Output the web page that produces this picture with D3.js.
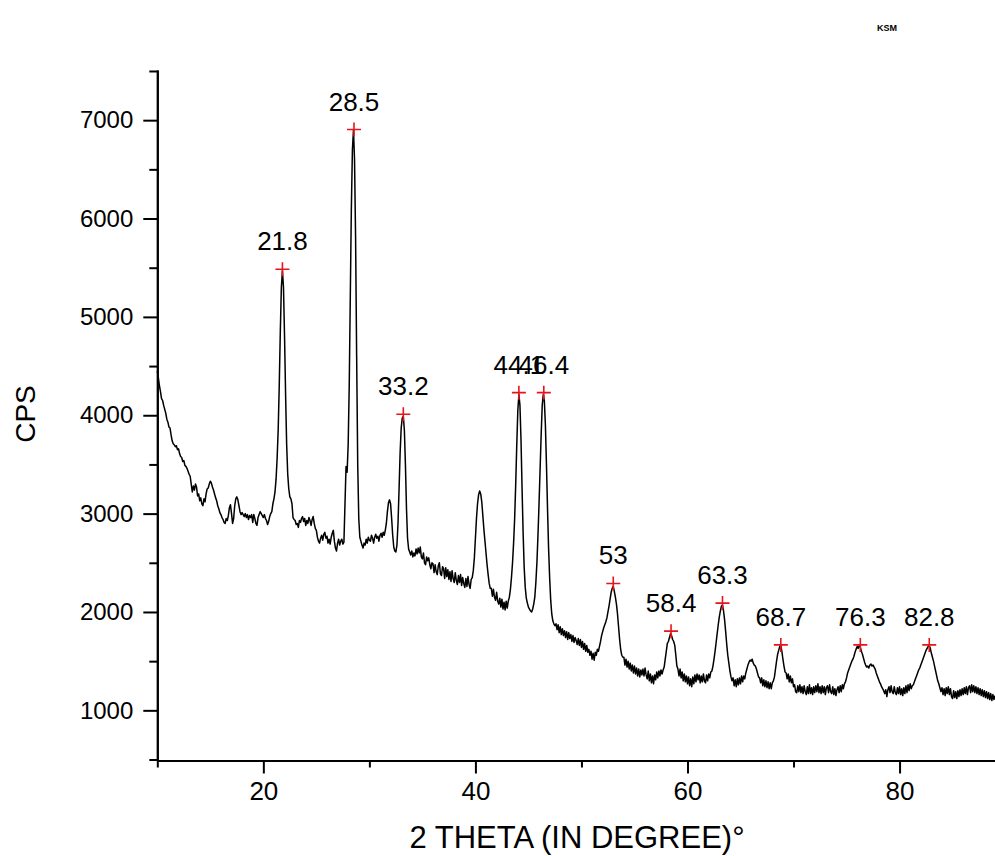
<!DOCTYPE html>
<html>
<head>
<meta charset="utf-8">
<script src="https://cdn.jsdelivr.net/npm/d3@7"></script>
<style>
  body { margin: 0; background: #fff; }
  svg { display: block; font-family: "Liberation Sans", Arial, sans-serif; }
  .axis path, .axis line { stroke: #000; stroke-width: 2; }
  .axis text { fill: #000; }
  .x.axis text { font-family: "Liberation Sans Narrow", "Arial Narrow", "Liberation Sans", sans-serif; font-size: 26px; }
  .y.axis text { font-size: 24px; }
  .axis-label { font-size: 28px; fill: #000; }
  .x.axis-label { font-family: "Liberation Sans Narrow", "Arial Narrow", "Liberation Sans", sans-serif; font-size: 31px; }
  .peak-label { font-size: 26px; fill: #000; }
</style>
</head>
<body>
<div id="chart-area"><svg></svg></div>
<script>
const chartSize = { width: 995, height: 856 };
const margin = { left: 157.3, right: 0, top: 70, bottom: 95.5 };
const width = chartSize.width - margin.left - margin.right;
const height = chartSize.height - margin.top - margin.bottom;

const xDomain = [10, 89];
const yDomain = [490, 7510];
const xMajorTicks = [20, 40, 60, 80];
const xMinorTicks = [10, 30, 50, 70];
const yMajorTicks = [1000, 2000, 3000, 4000, 5000, 6000, 7000];
const yMinorTicks = [500, 1500, 2500, 3500, 4500, 5500, 6500, 7500];

// picked peaks: position on the scan, height and the printed label
const peakTheta = [21.8, 28.55, 33.2, 44.1, 46.45, 53.0, 58.45, 63.3, 68.8, 76.3, 82.8];
const peakCps = [5485, 6905, 4010, 4230, 4230, 2290, 1805, 2090, 1665, 1665, 1665];
const peakLabels = ['21.8', '28.5', '33.2', '44.1', '46.4', '53', '58.4', '63.3', '68.7', '76.3', '82.8'];

// [2 theta, cps]
const scan = [
  [10.0,4450],[10.1,4380],[10.2,4300],[10.3,4240],[10.4,4170],[10.5,4150],[10.6,4100],[10.7,4060],
  [10.8,4020],[10.9,3960],[11.0,3930],[11.1,3880],[11.2,3870],[11.3,3800],[11.4,3740],[11.5,3710],
  [11.6,3700],[11.7,3680],[11.8,3690],[11.9,3650],[12.0,3660],[12.1,3610],[12.2,3580],[12.3,3570],
  [12.4,3530],[12.5,3540],[12.6,3490],[12.7,3480],[12.8,3460],[12.9,3430],[13.0,3400],[13.1,3380],
  [13.2,3300],[13.3,3220],[13.4,3280],[13.5,3240],[13.6,3300],[13.7,3270],[13.8,3180],[13.9,3200],
  [14.0,3130],[14.1,3160],[14.2,3100],[14.3,3080],[14.4,3150],[14.5,3120],[14.6,3200],[14.7,3250],
  [14.8,3260],[14.9,3300],[15.0,3330],[15.1,3310],[15.2,3270],[15.3,3240],[15.4,3200],[15.5,3160],
  [15.6,3130],[15.7,3080],[15.8,3050],[15.9,3010],[16.0,2990],[16.1,2960],[16.2,2940],[16.3,2910],
  [16.4,2900],[16.5,2950],[16.6,2930],[16.7,2980],[16.8,3060],[16.9,3090],[17.0,3000],[17.1,2900],
  [17.2,2950],[17.3,3080],[17.4,3150],[17.5,3170],[17.6,3140],[17.7,3080],[17.8,3020],[17.9,2990],
  [18.0,3010],[18.1,2990],[18.2,2970],[18.3,3000],[18.4,2960],[18.5,2990],[18.6,2940],[18.7,2980],
  [18.8,2960],[18.9,2990],[19.0,2910],[19.1,2990],[19.2,2950],[19.3,2900],[19.4,2880],[19.5,2960],
  [19.6,2990],[19.7,3020],[19.8,3000],[19.9,2980],[20.0,2960],[20.1,2990],[20.2,2950],[20.3,2930],
  [20.4,2890],[20.5,2920],[20.6,2970],[20.7,3000],[20.8,3020],[20.9,3100],[21.0,3150],[21.1,3220],
  [21.2,3350],[21.3,3560],[21.4,3850],[21.5,4300],[21.6,4850],[21.7,5300],[21.8,5470],[21.9,5300],
  [22.0,4800],[22.1,4200],[22.2,3700],[22.3,3400],[22.4,3250],[22.5,3170],[22.6,3150],[22.7,3100],
  [22.8,2960],[22.9,2940],[23.0,2930],[23.1,2890],[23.2,2900],[23.3,2860],[23.4,2930],[23.5,2910],
  [23.6,2950],[23.7,2970],[23.8,2920],[23.9,2950],[24.0,2880],[24.1,2930],[24.2,2900],[24.3,2960],
  [24.4,2930],[24.5,2880],[24.6,2940],[24.7,2970],[24.8,2900],[24.9,2850],[25.0,2830],[25.1,2760],
  [25.2,2720],[25.3,2700],[25.4,2750],[25.5,2780],[25.6,2730],[25.7,2790],[25.8,2810],[25.9,2750],
  [26.0,2770],[26.1,2700],[26.2,2740],[26.3,2690],[26.4,2760],[26.5,2800],[26.6,2830],[26.7,2720],
  [26.8,2650],[26.9,2620],[27.0,2700],[27.1,2740],[27.2,2680],[27.3,2720],[27.4,2740],[27.5,2690],
  [27.6,2710],[27.7,3100],[27.8,3480],[27.9,3420],[28.0,3700],[28.1,4300],[28.2,5200],[28.3,6100],
  [28.4,6700],[28.5,6900],[28.6,6600],[28.7,5800],[28.8,4600],[28.9,3500],[29.0,2950],[29.1,2760],
  [29.2,2720],[29.3,2680],[29.4,2650],[29.5,2700],[29.6,2680],[29.7,2740],[29.8,2700],[29.9,2760],
  [30.0,2730],[30.1,2720],[30.2,2780],[30.3,2750],[30.4,2700],[30.5,2760],[30.6,2790],[30.7,2750],
  [30.8,2770],[30.9,2720],[31.0,2780],[31.1,2800],[31.2,2760],[31.3,2810],[31.4,2780],[31.5,2830],
  [31.6,2900],[31.7,3020],[31.8,3110],[31.9,3140],[32.0,3100],[32.1,2950],[32.2,2780],[32.3,2660],
  [32.4,2620],[32.5,2610],[32.6,2680],[32.7,2900],[32.8,3250],[32.9,3620],[33.0,3870],[33.1,3970],
  [33.2,3990],[33.3,3850],[33.4,3500],[33.5,3050],[33.6,2750],[33.7,2640],[33.8,2610],[33.9,2580],
  [34.0,2620],[34.1,2560],[34.2,2600],[34.3,2570],[34.4,2640],[34.5,2590],[34.6,2650],[34.7,2600],
  [34.8,2660],[34.9,2560],[35.0,2540],[35.1,2600],[35.2,2500],[35.3,2480],[35.4,2560],[35.5,2520],
  [35.6,2550],[35.7,2480],[35.8,2440],[35.9,2500],[36.0,2490],[36.1,2400],[36.2,2480],[36.3,2410],
  [36.4,2380],[36.5,2470],[36.6,2500],[36.7,2390],[36.8,2370],[36.9,2460],[37.0,2440],[37.1,2340],
  [37.2,2450],[37.3,2360],[37.4,2430],[37.5,2330],[37.6,2410],[37.7,2310],[37.8,2420],[37.9,2340],
  [38.0,2300],[38.1,2400],[38.2,2320],[38.3,2280],[38.4,2370],[38.5,2300],[38.6,2380],[38.7,2270],
  [38.8,2350],[38.9,2290],[39.0,2250],[39.1,2340],[39.2,2260],[39.3,2360],[39.4,2280],[39.5,2240],
  [39.6,2330],[39.7,2350],[39.8,2420],[39.9,2550],[40.0,2750],[40.1,2950],[40.2,3100],[40.3,3190],
  [40.4,3230],[40.5,3200],[40.6,3120],[40.7,2980],[40.8,2840],[40.9,2720],[41.0,2600],[41.1,2480],
  [41.2,2380],[41.3,2290],[41.4,2240],[41.5,2240],[41.6,2160],[41.7,2230],[41.8,2150],[41.9,2120],
  [42.0,2200],[42.1,2110],[42.2,2080],[42.3,2140],[42.4,2050],[42.5,2130],[42.6,2030],[42.7,2100],
  [42.8,2020],[42.9,2110],[43.0,2040],[43.1,2110],[43.2,2150],[43.3,2230],[43.4,2350],[43.5,2500],
  [43.6,2700],[43.7,2950],[43.8,3300],[43.9,3700],[44.0,4050],[44.1,4210],[44.2,4100],[44.3,3750],
  [44.4,3250],[44.5,2800],[44.6,2450],[44.7,2250],[44.8,2140],[44.9,2090],[45.0,2050],[45.1,2030],
  [45.2,2010],[45.3,2000],[45.4,2030],[45.5,2080],[45.6,2150],[45.7,2300],[45.8,2500],[45.9,2780],
  [46.0,3100],[46.1,3450],[46.2,3800],[46.3,4100],[46.4,4210],[46.5,4150],[46.6,3900],[46.7,3500],
  [46.8,3050],[46.9,2650],[47.0,2350],[47.1,2120],[47.2,1980],[47.3,1910],[47.4,1880],[47.5,1860],
  [47.6,1880],[47.7,1820],[47.8,1870],[47.9,1790],[48.0,1850],[48.1,1770],[48.2,1830],[48.3,1760],
  [48.4,1810],[48.5,1740],[48.6,1800],[48.7,1720],[48.8,1790],[48.9,1730],[49.0,1770],[49.1,1700],
  [49.2,1760],[49.3,1690],[49.4,1740],[49.5,1710],[49.6,1670],[49.7,1730],[49.8,1660],[49.9,1720],
  [50.0,1640],[50.1,1700],[50.2,1620],[50.3,1680],[50.4,1600],[50.5,1660],[50.6,1590],[50.7,1620],
  [50.8,1560],[50.9,1600],[51.0,1520],[51.1,1580],[51.2,1510],[51.3,1590],[51.4,1560],[51.5,1620],
  [51.6,1600],[51.7,1650],[51.8,1700],[51.9,1760],[52.0,1800],[52.1,1840],[52.2,1870],[52.3,1900],
  [52.4,1940],[52.5,2000],[52.6,2060],[52.7,2130],[52.8,2200],[52.9,2240],[53.0,2260],[53.1,2210],
  [53.2,2150],[53.3,2080],[53.4,1980],[53.5,1850],[53.6,1720],[53.7,1620],[53.8,1560],[53.9,1540],
  [54.0,1540],[54.1,1460],[54.2,1520],[54.3,1440],[54.4,1500],[54.5,1420],[54.6,1480],[54.7,1400],
  [54.8,1460],[54.9,1380],[55.0,1450],[55.1,1370],[55.2,1430],[55.3,1350],[55.4,1420],[55.5,1340],
  [55.6,1410],[55.7,1360],[55.8,1420],[55.9,1350],[56.0,1430],[56.1,1360],[56.2,1320],[56.3,1400],
  [56.4,1300],[56.5,1370],[56.6,1280],[56.7,1350],[56.8,1270],[56.9,1360],[57.0,1310],[57.1,1390],
  [57.2,1330],[57.3,1400],[57.4,1350],[57.5,1410],[57.6,1370],[57.7,1410],[57.8,1440],[57.9,1520],
  [58.0,1600],[58.1,1680],[58.2,1700],[58.3,1740],[58.4,1780],[58.5,1760],[58.6,1720],[58.7,1700],
  [58.8,1660],[58.9,1560],[59.0,1450],[59.1,1420],[59.2,1350],[59.3,1420],[59.4,1330],[59.5,1390],
  [59.6,1300],[59.7,1370],[59.8,1290],[59.9,1350],[60.0,1270],[60.1,1340],[60.2,1250],[60.3,1320],
  [60.4,1240],[60.5,1340],[60.6,1270],[60.7,1360],[60.8,1290],[60.9,1370],[61.0,1310],[61.1,1360],
  [61.2,1280],[61.3,1350],[61.4,1290],[61.5,1370],[61.6,1300],[61.7,1280],[61.8,1360],[61.9,1300],
  [62.0,1370],[62.1,1330],[62.2,1390],[62.3,1400],[62.4,1450],[62.5,1520],[62.6,1600],[62.7,1690],
  [62.8,1780],[62.9,1870],[63.0,1950],[63.1,2010],[63.2,2060],[63.3,2070],[63.4,2010],[63.5,1920],
  [63.6,1800],[63.7,1670],[63.8,1560],[63.9,1480],[64.0,1400],[64.1,1340],[64.2,1300],[64.3,1330],
  [64.4,1250],[64.5,1310],[64.6,1240],[64.7,1320],[64.8,1260],[64.9,1330],[65.0,1270],[65.1,1350],
  [65.2,1290],[65.3,1350],[65.4,1320],[65.5,1380],[65.6,1420],[65.7,1460],[65.8,1490],[65.9,1510],
  [66.0,1500],[66.1,1520],[66.2,1480],[66.3,1460],[66.4,1450],[66.5,1420],[66.6,1380],[66.7,1340],
  [66.8,1330],[66.9,1280],[67.0,1330],[67.1,1250],[67.2,1310],[67.3,1240],[67.4,1300],[67.5,1230],
  [67.6,1290],[67.7,1220],[67.8,1280],[67.9,1220],[68.0,1280],[68.1,1300],[68.2,1340],[68.3,1420],
  [68.4,1500],[68.5,1570],[68.6,1610],[68.7,1650],[68.8,1660],[68.9,1600],[69.0,1520],[69.1,1450],
  [69.2,1390],[69.3,1380],[69.4,1320],[69.5,1370],[69.6,1290],[69.7,1350],[69.8,1280],[69.9,1320],
  [70.0,1240],[70.1,1260],[70.2,1190],[70.3,1180],[70.4,1250],[70.5,1190],[70.6,1260],[70.7,1180],
  [70.8,1240],[70.9,1170],[71.0,1250],[71.1,1190],[71.2,1160],[71.3,1240],[71.4,1170],[71.5,1260],
  [71.6,1170],[71.7,1230],[71.8,1160],[71.9,1240],[72.0,1180],[72.1,1250],[72.2,1190],[72.3,1270],
  [72.4,1180],[72.5,1240],[72.6,1170],[72.7,1250],[72.8,1180],[72.9,1240],[73.0,1160],[73.1,1230],
  [73.2,1250],[73.3,1180],[73.4,1260],[73.5,1190],[73.6,1170],[73.7,1240],[73.8,1160],[73.9,1220],
  [74.0,1150],[74.1,1210],[74.2,1240],[74.3,1180],[74.4,1250],[74.5,1190],[74.6,1260],[74.7,1220],
  [74.8,1270],[74.9,1290],[75.0,1330],[75.1,1380],[75.2,1410],[75.3,1440],[75.4,1470],[75.5,1500],
  [75.6,1520],[75.7,1550],[75.8,1590],[75.9,1620],[76.0,1650],[76.1,1630],[76.2,1660],[76.3,1640],
  [76.4,1600],[76.5,1570],[76.6,1530],[76.7,1490],[76.8,1460],[76.9,1440],[77.0,1450],[77.1,1430],
  [77.2,1460],[77.3,1470],[77.4,1450],[77.5,1460],[77.6,1440],[77.7,1420],[77.8,1380],[77.9,1350],
  [78.0,1320],[78.1,1290],[78.2,1270],[78.3,1240],[78.4,1220],[78.5,1200],[78.6,1170],[78.7,1210],
  [78.8,1140],[78.9,1210],[79.0,1240],[79.1,1180],[79.2,1250],[79.3,1190],[79.4,1170],[79.5,1240],
  [79.6,1180],[79.7,1160],[79.8,1230],[79.9,1170],[80.0,1240],[80.1,1160],[80.2,1220],[80.3,1150],
  [80.4,1230],[80.5,1170],[80.6,1250],[80.7,1180],[80.8,1260],[80.9,1200],[81.0,1270],[81.1,1220],
  [81.2,1250],[81.3,1260],[81.4,1290],[81.5,1320],[81.6,1350],[81.7,1380],[81.8,1410],[81.9,1430],
  [82.0,1460],[82.1,1490],[82.2,1520],[82.3,1550],[82.4,1580],[82.5,1610],[82.6,1630],[82.7,1650],
  [82.8,1660],[82.9,1630],[83.0,1580],[83.1,1540],[83.2,1500],[83.3,1450],[83.4,1400],[83.5,1350],
  [83.6,1300],[83.7,1270],[83.8,1230],[83.9,1190],[84.0,1230],[84.1,1160],[84.2,1220],[84.3,1150],
  [84.4,1230],[84.5,1170],[84.6,1240],[84.7,1160],[84.8,1220],[84.9,1140],[85.0,1120],[85.1,1200],
  [85.2,1130],[85.3,1190],[85.4,1120],[85.5,1200],[85.6,1140],[85.7,1210],[85.8,1150],[85.9,1220],
  [86.0,1160],[86.1,1230],[86.2,1170],[86.3,1240],[86.4,1160],[86.5,1230],[86.6,1250],[86.7,1180],
  [86.8,1260],[86.9,1190],[87.0,1250],[87.1,1180],[87.2,1240],[87.3,1170],[87.4,1230],[87.5,1160],
  [87.6,1220],[87.7,1150],[87.8,1210],[87.9,1140],[88.0,1200],[88.1,1130],[88.2,1190],[88.3,1120],
  [88.4,1180],[88.5,1110],[88.6,1170],[88.7,1100],[88.8,1160],[88.9,1110],[89.0,1150]
];

const drawChart = () => {
  const svg = d3.select('#chart-area svg')
    .attr('width', chartSize.width)
    .attr('height', chartSize.height);

  const x = d3.scaleLinear().domain(xDomain).range([0, width]);
  const y = d3.scaleLinear().domain(yDomain).range([height, 0]);

  const g = svg.append('g')
    .attr('transform', `translate(${margin.left},${margin.top})`);

  // scan trace
  const line = d3.line()
    .x(d => x(d[0]))
    .y(d => y(d[1]));

  g.append('path')
    .datum(scan)
    .attr('fill', 'none')
    .attr('stroke', '#000')
    .attr('stroke-width', 1.5)
    .attr('stroke-linejoin', 'round')
    .attr('d', line);

  // y axis: major + minor ticks
  g.append('g')
    .attr('class', 'y axis')
    .call(d3.axisLeft(y).tickValues(yMinorTicks).tickSize(8).tickFormat('').tickSizeOuter(0));
  g.append('g')
    .attr('class', 'y axis')
    .call(d3.axisLeft(y).tickValues(yMajorTicks).tickSize(14).tickPadding(10)
      .tickFormat(d3.format('d')).tickSizeOuter(0));

  // x axis: major + minor ticks
  g.append('g')
    .attr('class', 'x axis')
    .attr('transform', `translate(0,${height})`)
    .call(d3.axisBottom(x).tickValues(xMinorTicks).tickSize(7).tickFormat('').tickSizeOuter(0));
  g.append('g')
    .attr('class', 'x axis')
    .attr('transform', `translate(0,${height})`)
    .call(d3.axisBottom(x).tickValues(xMajorTicks).tickSize(13).tickPadding(8).tickSizeOuter(0));

  g.selectAll('.axis path').attr('stroke-width', 2.2);

  // peak markers
  const peaks = peakTheta.map((t, i) => ({ t, c: peakCps[i], label: peakLabels[i] }));
  const marks = g.selectAll('.peak').data(peaks).enter()
    .append('g')
    .attr('class', 'peak')
    .attr('transform', d => `translate(${x(d.t)},${y(d.c)})`);

  marks.append('path')
    .attr('d', 'M-7,0H7M0,-7V7')
    .attr('stroke', '#e8141c')
    .attr('stroke-width', 1.6)
    .attr('fill', 'none');

  marks.append('text')
    .attr('class', 'peak-label')
    .attr('text-anchor', 'middle')
    .attr('y', -19)
    .text(d => d.label);

  // axis titles
  svg.append('text')
    .attr('class', 'x axis-label')
    .attr('text-anchor', 'middle')
    .attr('x', 577)
    .attr('y', 848)
    .text('2 THETA (IN DEGREE)°');

  svg.append('text')
    .attr('class', 'y axis-label')
    .attr('text-anchor', 'middle')
    .attr('transform', 'translate(35,414) rotate(-90)')
    .text('CPS');

  svg.append('text')
    .attr('x', 887)
    .attr('y', 31)
    .attr('text-anchor', 'middle')
    .attr('font-size', 9)
    .attr('font-weight', 'bold')
    .text('KSM');
};

window.onload = drawChart;
</script>
</body>
</html>
